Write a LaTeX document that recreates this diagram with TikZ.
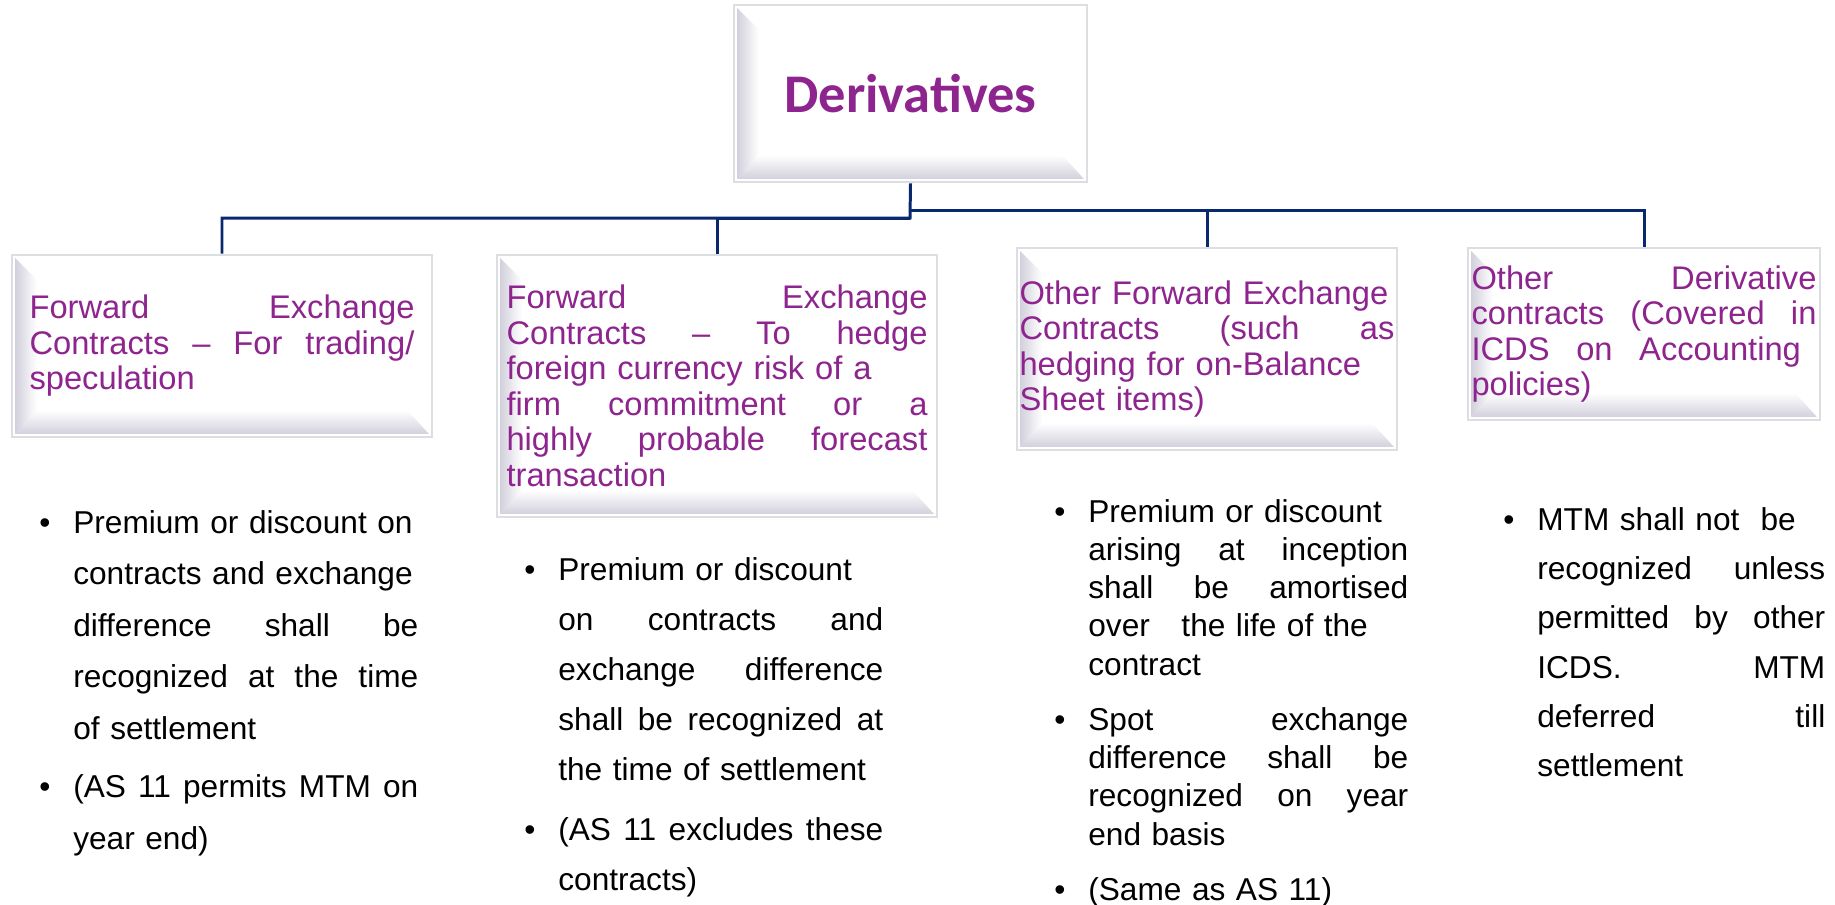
\documentclass[tikz,border=0pt]{standalone}
\usepackage{fontspec}
\setmainfont{Liberation Sans}
\newfontfamily\titlefont{Carlito}
\usetikzlibrary{calc}

\definecolor{plum}{RGB}{142,36,142}
\definecolor{navy}{RGB}{10,40,110}
\definecolor{bevel}{RGB}{210,208,220}
\definecolor{frame}{RGB}{220,223,226}

%% riga giustificata (larghezza = frazione del testo del nodo)
\newcommand{\jl}[2][1]{\makebox[#1\hsize][s]{\spaceskip=0.28em plus 4em\relax #2}}
%% pallino sporgente a sinistra
\newcommand{\bul}{\makebox[0pt][r]{\textbullet\hspace{13pt}}}

\begin{document}
\begin{tikzpicture}[
	x=0.02cm, y=-0.02cm,
	conn/.style={line width=1.7pt, navy, line join=miter},
	lvlbox/.style={draw=frame, line width=1.6pt, fill=white, inner sep=0pt, text=plum, align=left,
		font=\fontsize{18.6}{20.2}\selectfont,
		path picture={
			\coordinate (bnw) at ([shift={(3,3)}]path picture bounding box.north west);
			\coordinate (bse) at ([shift={(-3,-3)}]path picture bounding box.south east);
			\shade[left color=bevel, right color=white] (bnw) -- ++(22,22) -- ($(bnw |- bse)+(22,-22)$) -- (bnw |- bse) -- cycle;
			\shade[bottom color=bevel, top color=white] (bnw |- bse) -- ++(22,-24) -- ($(bse)+(-22,-24)$) -- (bse) -- cycle;
		}},
	notes/.style={anchor=base west, inner sep=0pt, align=left, text=black}]
	
	\useasboundingbox (0,0) rectangle (1835,904);
	
	%% --- radice ---
	\node[lvlbox, minimum width=7.06cm, minimum height=3.54cm, align=center,
		font=\titlefont\bfseries\fontsize{31}{36}\selectfont] (deriv) at (910.5,93.5) {Derivatives};
	
	%% --- quattro categorie ---
	\node[lvlbox, minimum width=8.4cm, minimum height=3.64cm, text width=7.7cm] (fecTrade) at (222,346)
		{\jl{Forward Exchange}\\ \jl{Contracts -- For trading/}\\ speculation};
	\node[lvlbox, minimum width=8.8cm, minimum height=5.24cm, text width=8.42cm] (fecHedge) at (717,386)
		{\jl{Forward Exchange}\\ \jl{Contracts -- To hedge}\\ foreign currency risk of a\\ \jl{firm commitment or a}\\ \jl{highly probable forecast}\\ transaction};
	\node[lvlbox, minimum width=7.6cm, minimum height=4.04cm, text width=7.5cm] (ofec) at (1207,349)
		{Other Forward Exchange\\ \jl{Contracts (such as}\\ hedging for on-Balance\\ Sheet items)};
	\node[lvlbox, minimum width=7.04cm, minimum height=3.44cm, text width=6.9cm] (odc) at (1644,334)
		{\jl{Other Derivative}\\ \jl{contracts (Covered in}\\ \jl[0.955]{ICDS on Accounting}\\ policies)};
	
	%% --- collegamenti ---
	\coordinate (jl) at (910,218);
	\coordinate (jr) at (910,210);
	\draw[conn] (deriv.south) -- (jl) -| (fecTrade.north);
	\draw[conn] (jl) -| (fecHedge.north);
	\draw[conn] (jr) -| (ofec.north);
	\draw[conn] (jr) -| (odc.north);
	
	%% --- note sotto ciascuna categoria ---
	\node[notes, text width=6.9cm, font=\fontsize{18}{29.4}\selectfont] (colTrade) at (73,533)
		{\bul Premium or discount on\\ contracts and exchange\\ \jl{difference shall be}\\ \jl{recognized at the time}\\ of settlement\\[3.5pt]
		 \bul\jl{(AS 11 permits MTM on}\\ year end)};
	\node[notes, text width=6.5cm, font=\fontsize{18}{28.5}\selectfont] (colHedge) at (558,580)
		{\bul Premium or discount\\ \jl{on contracts and}\\ \jl{exchange difference}\\ \jl{shall be recognized at}\\ the time of settlement\\[5.7pt]
		 \bul\jl{(AS 11 excludes these}\\ contracts)};
	\node[notes, text width=6.4cm, font=\fontsize{18}{21.8}\selectfont] (colOther) at (1088,522)
		{\bul Premium or discount\\ \jl{arising at inception}\\ \jl{shall be amortised}\\ over\ \ \ the life of the\\ contract\\[9.5pt]
		 \bul\jl{Spot exchange}\\ \jl{difference shall be}\\ \jl{recognized on year}\\ end basis\\[9.5pt]
		 \bul (Same as AS 11)};
	\node[notes, text width=5.76cm, font=\fontsize{18}{28.1}\selectfont] (colDeriv) at (1537,530)
		{\bul MTM shall not\ \ be\\ \jl{recognized unless}\\ \jl{permitted by other}\\ \jl{ICDS. MTM}\\ \jl{deferred till}\\ settlement};
	
\end{tikzpicture}
\end{document}
